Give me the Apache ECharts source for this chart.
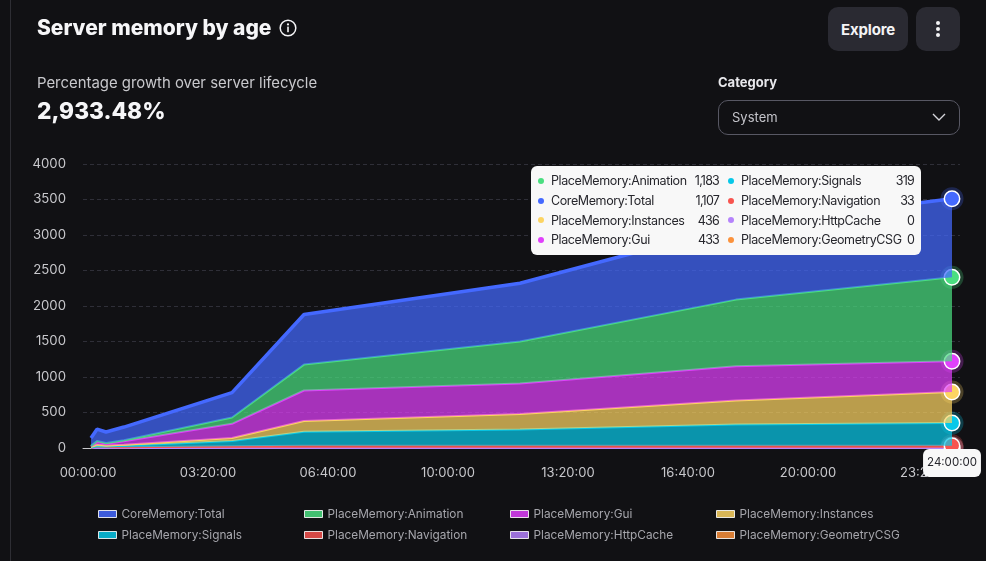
<!DOCTYPE html>
<html><head><meta charset="utf-8">
<script src="https://cdn.jsdelivr.net/npm/echarts@6/dist/echarts.min.js"></script>
<style>
html,body{margin:0;padding:0;width:986px;height:561px;overflow:hidden;background:#111114;font-family:Inter,sans-serif}
#chart{position:absolute;left:0;top:0;width:986px;height:561px}
.ui{position:absolute;box-sizing:border-box}
.btn{background:#2a2a32;border-radius:10px;color:#f4f4f6;font-weight:700;font-size:15px;letter-spacing:-.2px;display:flex;align-items:center;justify-content:center;top:7px;height:44px}
.tt{display:grid;grid-template-columns:150px 31px 9px 162px 24px;grid-auto-rows:19.7px;align-items:center;font:12.5px Inter,sans-serif;color:#26262c;letter-spacing:-.4px}
.tt .n{display:flex;align-items:center;white-space:nowrap}
.tt i{width:6px;height:6px;border-radius:50%;display:inline-block;margin:0 7px 0 0;flex:none}
.tt .v{text-align:right;letter-spacing:-.8px}
</style></head><body>
<div id="chart"></div>
<div class="ui" style="left:10px;top:0;width:1px;height:561px;background:#2e2e34"></div>
<svg class="ui" style="left:279px;top:19px" width="18" height="18" viewBox="0 0 18 18" fill="none"><circle cx="9" cy="9" r="7.8" stroke="#f4f4f6" stroke-width="1.5"/><circle cx="9" cy="5.4" r="1.1" fill="#f4f4f6"/><rect x="8.2" y="7.6" width="1.6" height="5.6" fill="#f4f4f6"/></svg>
<div class="ui btn" style="left:828px;width:80px">Explore</div>
<div class="ui btn" style="left:916px;width:44px"><svg width="6" height="18" viewBox="0 0 6 18"><circle cx="3" cy="3" r="2" fill="#f4f4f6"/><circle cx="3" cy="9" r="2" fill="#f4f4f6"/><circle cx="3" cy="15" r="2" fill="#f4f4f6"/></svg></div>
<div class="ui" style="left:718px;top:74px;font-size:13px;font-weight:700;color:#e8e8ec">Category</div>
<div class="ui" style="left:718px;top:100px;width:242px;height:35px;border:1px solid #585864;border-radius:10px;color:#c4c4ca;font-size:13px;line-height:33px;padding-left:13px">System<svg style="position:absolute;left:212px;top:11px" width="16" height="11" viewBox="0 0 16 11" fill="none"><path d="M2 2l6 6 6-6" stroke="#d4d4da" stroke-width="1.4"/></svg></div>
<script>
const timesSec=[300,900,1800,3600,14400,21600,43200,64800,86400];
const tickSec=[0,12000,24000,36000,48000,60000,72000,84000];
const coreTotal=[110,165,155,185,350,705,820,1040,1107];
const animation=[5,10,10,15,90,365,590,940,1183];
const gui=[10,40,25,50,200,430,430,480,433];
const instances=[10,25,15,15,40,150,220,340,436];
const signals=[2,5,5,18,75,200,230,298,319];
const navigation=[3,20,15,12,25,30,30,32,33];
const httpCache=[0,0,0,0,0,0,0,0,0];
const geometryCSG=[0,0,0,0,0,0,0,0,0];
const legendOrder=['CoreMemory:Total','PlaceMemory:Animation','PlaceMemory:Gui','PlaceMemory:Instances','PlaceMemory:Signals','PlaceMemory:Navigation','PlaceMemory:HttpCache','PlaceMemory:GeometryCSG'];
const colors=['#4469ff','#4ade80','#e040fb','#fcd462','#08c8e8','#f8544f','#b583fb','#fb923c'];
const values=[coreTotal,animation,gui,instances,signals,navigation,httpCache,geometryCSG];
const tooltipOrder=[1,0,3,2,4,5,6,7];

const fmt=s=>[Math.floor(s/3600),Math.floor(s%3600/60),Math.floor(s%60)].map(n=>String(n).padStart(2,'0')).join(':');
// A fine time-slot category axis, so the elapsed time keeps a linear scale and series stack by slot.
const slotStep=100, slotMin=-500, slotMax=87200;
const slots=[];
for(let s=slotMin;s<=slotMax;s+=slotStep)slots.push(String(s));
const last=timesSec.length-1;
const series=[];
let cum=0;
for(let i=values.length-1;i>=0;i--){
  cum+=values[i][last];
  series.push({name:legendOrder[i],type:'line',stack:'mem',
    data:timesSec.map((t,k)=>[String(t),values[i][k]]),
    color:colors[i],lineStyle:{width:i===0?3.5:2,color:colors[i]},
    areaStyle:{color:colors[i],opacity:.72},
    showSymbol:true,showAllSymbol:true,symbol:'circle',
    symbolSize:(v,p)=>p.dataIndex===last?14:0,
    itemStyle:{color:colors[i],borderColor:'#fff',borderWidth:1.5},
    emphasis:{disabled:true},z:2+(values.length-i)});
  series.push({name:'halo'+i,type:'scatter',silent:true,data:[[String(timesSec[last]),cum]],symbolSize:23,
    itemStyle:{color:colors[i],opacity:.25},z:1,tooltip:{show:false}});
}
const legendX=[98,304,510,716], legendY=[508,529];
const chart=echarts.init(document.getElementById('chart'),null,{renderer:'canvas'});
const tfont={fontFamily:'Inter',fontWeight:800};
chart.setOption({
  animation:false,backgroundColor:'#111114',
  title:[
    {text:'Server memory by age',left:32,top:13,textStyle:{...tfont,fontSize:21,color:'#f6f6f8'}},
    {text:'Percentage growth over server lifecycle',left:32,top:71,textStyle:{fontFamily:'Inter',fontWeight:400,fontSize:14.9,color:'#c8c8cc'}},
    {text:'2,933.48%',left:32,top:96,textStyle:{...tfont,fontSize:22.7,color:'#f6f6f8'}}
  ],
  grid:{left:83,top:164,width:877,height:284},
  xAxis:{type:'category',data:slots,boundaryGap:false,
    splitLine:{show:false},axisTick:{show:false},
    axisLine:{show:true,onZero:false,lineStyle:{color:'#c8c8cc',width:1}},
    axisLabel:{interval:(idx,v)=>tickSec.includes(+v),formatter:v=>fmt(+v),color:'#c8c8cc',fontFamily:'Inter',fontSize:13,margin:19,hideOverlap:false},
    axisPointer:{show:true,value:(86400-slotMin)/slotStep,status:'show',type:'line',lineStyle:{opacity:0},
      label:{show:true,formatter:p=>fmt(+p.value),backgroundColor:'#f8f8f8',color:'#26262c',borderRadius:6,padding:[8,4],margin:1,fontFamily:'Inter',fontSize:11.5,shadowBlur:0}}},
  yAxis:{type:'value',min:0,max:4000,interval:500,
    axisLine:{show:false},axisTick:{show:false},
    axisLabel:{formatter:v=>String(v),color:'#c8c8cc',fontFamily:'Inter',fontSize:13.2,margin:17},
    splitLine:{lineStyle:{color:'#2f2f38',type:[4,3],width:1}}},
  legend:legendOrder.map((n,k)=>({data:[n],left:legendX[k%4],top:legendY[Math.floor(k/4)],padding:0,itemWidth:18,itemHeight:7,icon:'rect',
    itemStyle:{borderWidth:1,borderColor:'inherit',opacity:.85},lineStyle:{width:0},
    textStyle:{color:'#a6a6ac',fontFamily:'Inter',fontSize:11.8},selectedMode:false})),
  tooltip:{trigger:'axis',showContent:true,alwaysShowContent:true,backgroundColor:'#f8f8f8',borderWidth:0,padding:[5,7,5,7],
    transitionDuration:0,extraCssText:'border-radius:6px;box-shadow:none;',
    position:()=>[531,166],
    axisPointer:{type:'none'},
    formatter:()=>{
      const cells=[];
      for(let r=0;r<4;r++){
        [r,r+4].forEach((c,idx)=>{
          const i=tooltipOrder[c];
          cells.push('<div class="n"><i style="background:'+colors[i]+'"></i>'+legendOrder[i]+'</div><div class="v">'+values[i][last].toLocaleString('en-US')+'</div>');
          if(idx===0)cells.push('<div></div>');
        });
      }
      return '<div class="tt">'+cells.join('')+'</div>';
    }},
  series
});
chart.dispatchAction({type:'showTip',seriesIndex:0,dataIndex:last});
</script>
</body></html>
